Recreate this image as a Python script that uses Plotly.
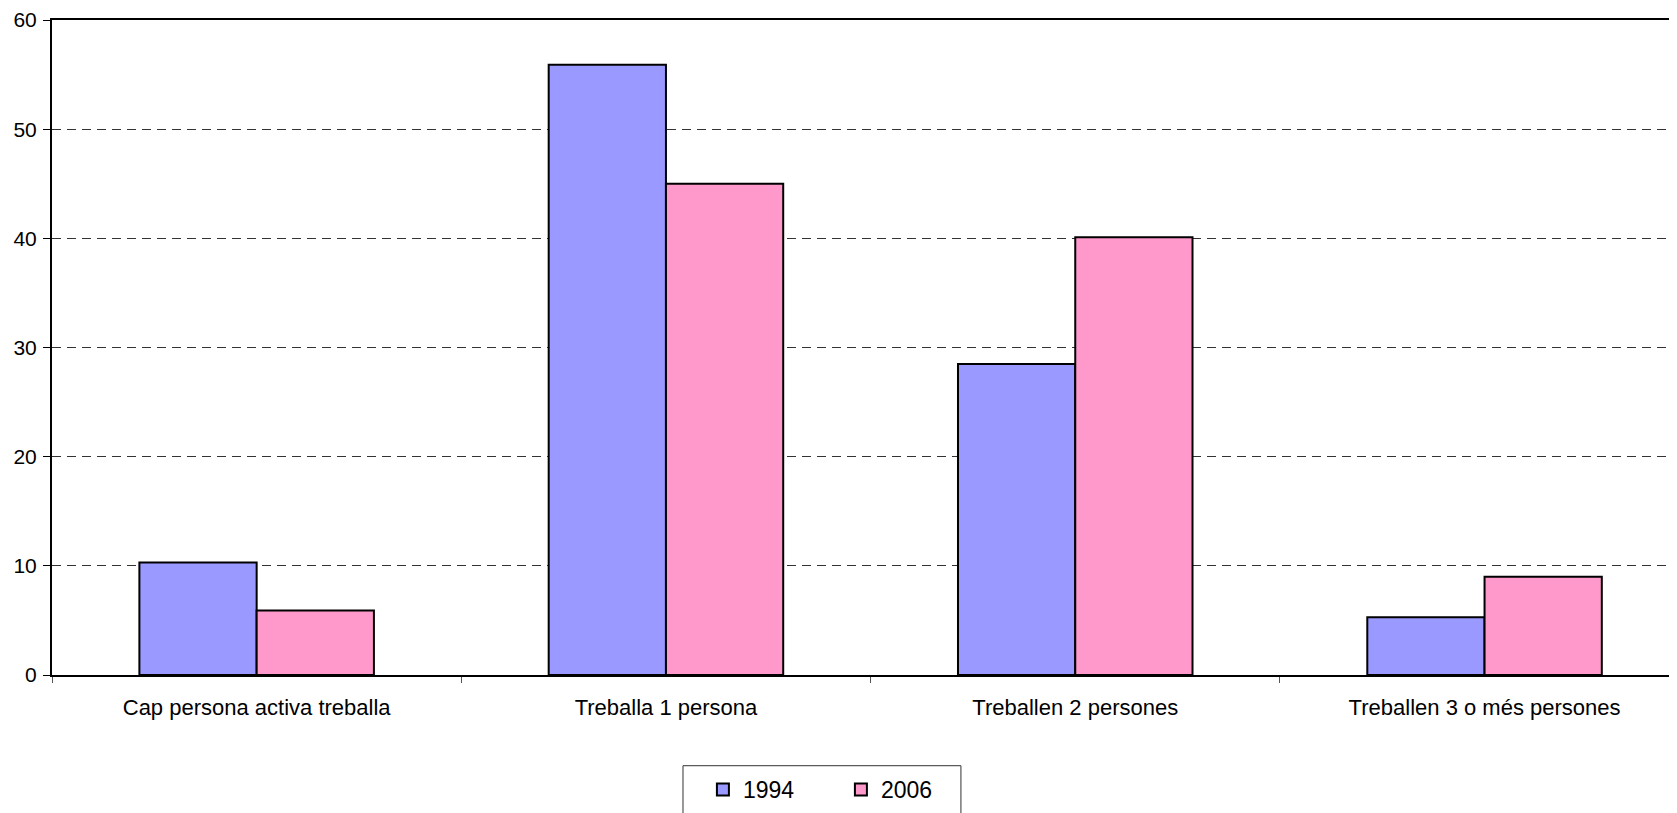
import plotly.graph_objects as go

categories = ["Cap persona activa treballa", "Treballa 1 persona",
              "Treballen 2 persones", "Treballen 3 o més persones"]
values_1994 = [10.3, 55.9, 28.5, 5.3]
values_2006 = [5.9, 45.0, 40.1, 9.0]
series_names = ["1994", "2006"]
y_ticks = [0, 10, 20, 30, 40, 50, 60]

fig = go.Figure()
fig.add_trace(go.Bar(x=categories, y=values_1994, name=series_names[0],
                     marker=dict(color="#9999FF", line=dict(color="black", width=2))))
fig.add_trace(go.Bar(x=categories, y=values_2006, name=series_names[1],
                     marker=dict(color="#FF99CC", line=dict(color="black", width=2))))

# page body adds 8px offset; compensate in margins
W, H = 1677, 813
ml, mt, mb = 44, 12, 146
plot_w = W - ml
cat_px = 409.3
fig.update_layout(
    width=W, height=H,
    margin=dict(l=ml, r=0, t=mt, b=mb, pad=0),
    paper_bgcolor="white", plot_bgcolor="white",
    barmode="group", bargap=0.427, bargroupgap=0,
    font=dict(family="Liberation Sans, Arial, sans-serif", color="black", size=22),
    showlegend=True,
    legend=dict(orientation="h", x=0.3986, xanchor="left", y=-0.142, yanchor="top",
                borderwidth=0, bgcolor="rgba(0,0,0,0)",
                font=dict(size=23), entrywidth=93, itemwidth=30),
    shapes=[dict(type="rect", xref="paper", yref="paper",
                 x0=0.3864, x1=0.5566, y0=-0.26, y1=-0.1385,
                 line=dict(color="#333333", width=1), fillcolor="rgba(0,0,0,0)",
                 layer="below")],
)
fig.update_xaxes(
    type="category", range=[-0.5, -0.5 + plot_w / cat_px],
    showline=True, linecolor="black", linewidth=2, mirror=True,
    ticks="outside", tickson="boundaries", ticklen=6, tickcolor="#555555", tickwidth=1,
    showgrid=False, tickfont=dict(size=22), ticklabelstandoff=12,
)
fig.update_yaxes(
    range=[0, 60], tickvals=y_ticks,
    showline=True, linecolor="black", linewidth=2,
    ticks="outside", ticklen=7, tickcolor="black", tickwidth=1,
    showgrid=True, gridcolor="#333333", gridwidth=1, griddash="9px,6px",
    tickfont=dict(size=21), ticklabelstandoff=2, zeroline=False,
)
fig.write_html("out.html")
